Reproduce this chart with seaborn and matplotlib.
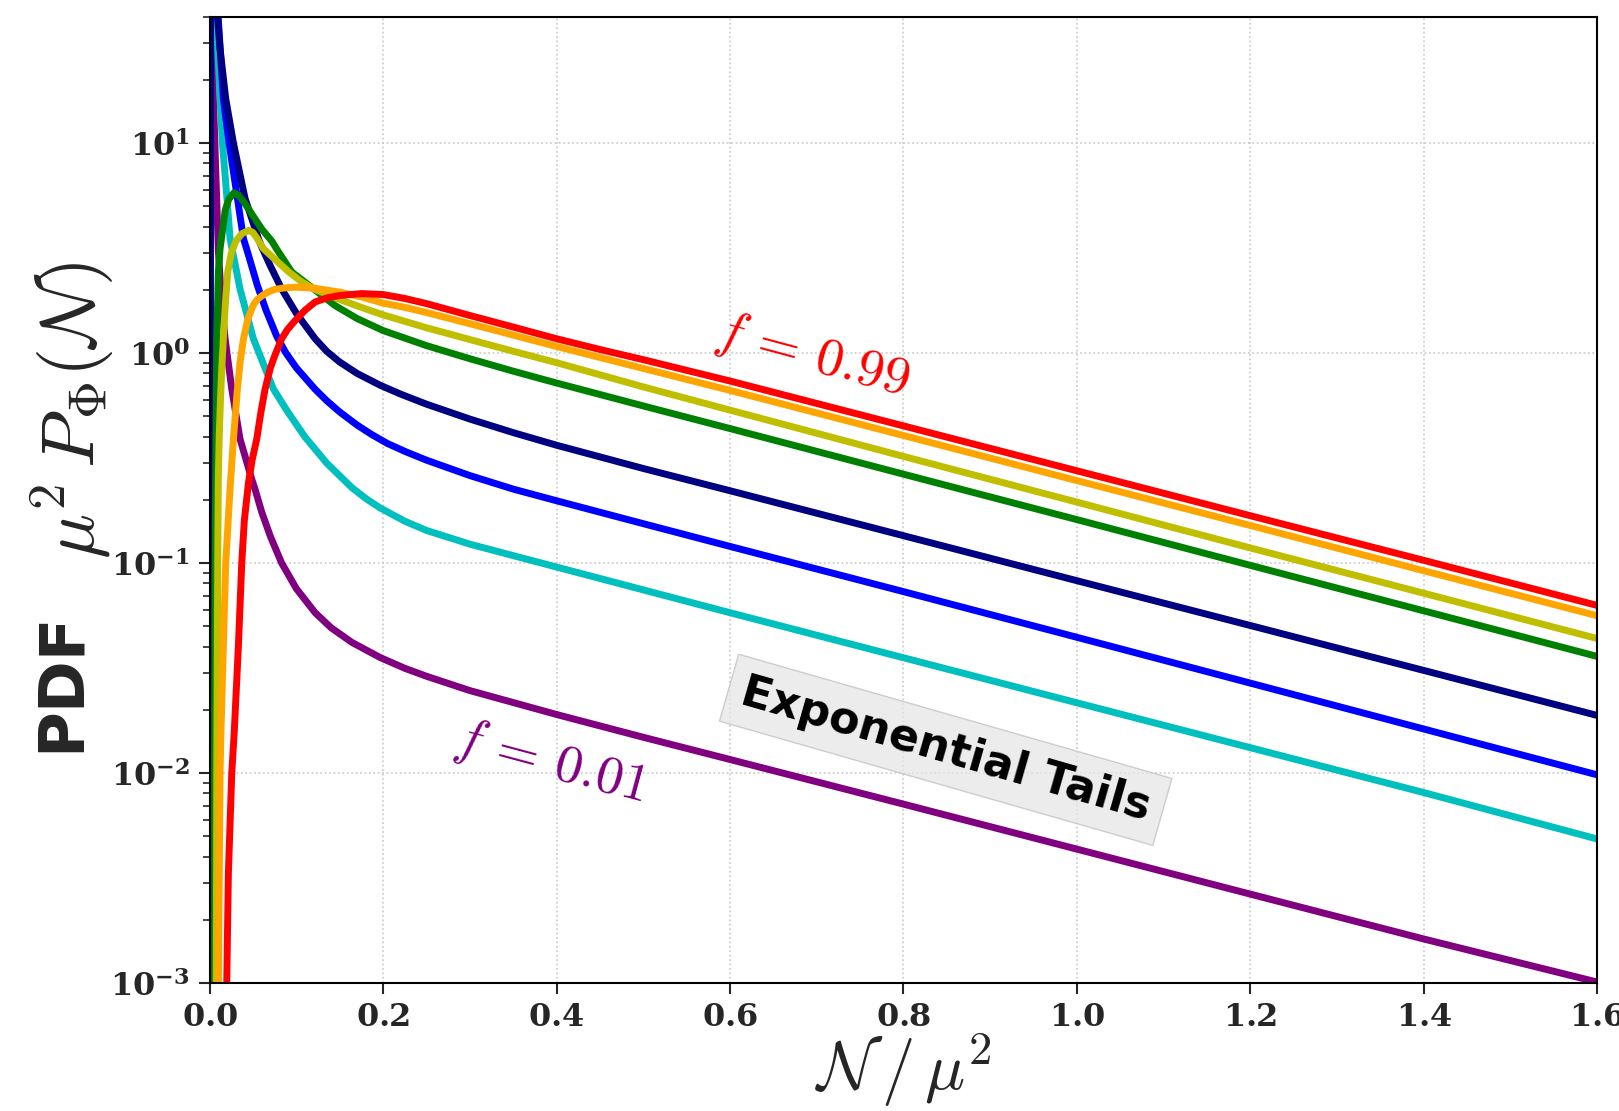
import numpy as np
import pandas as pd
import matplotlib
matplotlib.use("Agg")
import matplotlib.pyplot as plt
import matplotlib.ticker as mticker
import seaborn as sns

# ---------------- data ----------------
curve_names = ["f=0.01", "c2", "c3", "c4", "c5", "c6", "c7", "f=0.99"]
curve_colors = ["#800080", "#00bfbf", "#0000ff", "#000080",
                "#008000", "#bfbf00", "#ffa500", "#ff0000"]

purple_x = [0.00005, 0.0003, 0.0025, 0.004, 0.006, 0.010, 0.0135, 0.0178, 0.0255, 0.035,
            0.0485, 0.0523, 0.06, 0.07, 0.083, 0.1, 0.1215, 0.14, 0.164, 0.1965, 0.2253,
            0.25, 0.3, 0.4, 0.5, 0.6, 0.8, 1.0, 1.2, 1.4, 1.6]
purple_y = [0.0001, 200, 40, 18, 10, 3.1, 1.8, 1.17, 0.674, 0.39,
            0.251, 0.225, 0.175, 0.134, 0.10, 0.0755, 0.0581, 0.0492, 0.0419, 0.0355, 0.0315,
            0.0289, 0.0247, 0.019, 0.0148, 0.0116, 0.00711, 0.00434, 0.00265, 0.00162,
            0.00101]

cyan_x = [0.0001, 0.0005, 0.0075, 0.012, 0.0147, 0.020, 0.0235, 0.035, 0.0504, 0.0735, 0.09,
          0.11, 0.135, 0.1638, 0.18, 0.1965, 0.2253, 0.25, 0.3, 0.4, 0.5, 0.6, 0.8, 1.0,
          1.2, 1.4, 1.6]
cyan_y = [0.0001, 200, 40, 16.3, 10, 5.45, 3.51, 2.02, 1.17, 0.674, 0.525,
          0.398, 0.299, 0.229, 0.203, 0.183, 0.158, 0.143, 0.123, 0.0957, 0.0745, 0.058,
          0.0354, 0.0216, 0.0132, 0.00807, 0.00485]

blue_x = [0.0002, 0.0007, 0.009, 0.0158, 0.0224, 0.032, 0.039, 0.044, 0.055, 0.065, 0.0774,
          0.088, 0.1, 0.1215, 0.135, 0.15, 0.17, 0.187, 0.205, 0.2253, 0.25, 0.3, 0.35,
          0.4, 0.5, 0.6, 0.8, 1.0, 1.2, 1.4, 1.6]
blue_y = [0.0001, 200, 45, 16.3, 10, 5.45, 3.5, 3.0, 2.1, 1.6, 1.2,
          1.0, 0.85, 0.673, 0.593, 0.524, 0.454, 0.409, 0.371, 0.340, 0.309, 0.261, 0.225,
          0.198, 0.154, 0.120, 0.0731, 0.0443, 0.0268, 0.0162, 0.0098]

navy_x = [0.0003, 0.001, 0.008, 0.012, 0.0185, 0.0274, 0.0408, 0.0562, 0.060, 0.07, 0.083,
          0.1, 0.1215, 0.135, 0.15, 0.17, 0.1965, 0.22, 0.25, 0.3, 0.35, 0.4, 0.5, 0.6,
          0.8, 1.0, 1.2, 1.4, 1.6]
navy_y = [0.0001, 200, 45, 28, 16.3, 10, 5.45, 3.51, 3.2, 2.6, 2.02,
          1.545, 1.172, 1.019, 0.906, 0.80, 0.703, 0.638, 0.571, 0.485, 0.418, 0.364, 0.282,
          0.221, 0.135, 0.0824, 0.0504, 0.0308, 0.0188]

green_x = [0.0050, 0.0053, 0.0055, 0.0062, 0.0082, 0.010, 0.012, 0.018, 0.022, 0.028, 0.034,
           0.04, 0.045, 0.05, 0.06, 0.072, 0.077, 0.0947, 0.12, 0.1446, 0.17, 0.2, 0.25,
           0.3, 0.35, 0.4, 0.5, 0.6, 0.8, 1.0, 1.2, 1.4, 1.6]
green_y = [0.0003, 0.001, 0.01, 0.1, 1.17, 2.43, 3.14, 4.8, 5.4, 5.8, 5.6,
           5.2, 4.85, 4.5, 3.9, 3.4, 3.14, 2.43, 2.02, 1.683, 1.46, 1.28, 1.085,
           0.94, 0.82, 0.72, 0.56, 0.437, 0.265, 0.161, 0.0975, 0.0592, 0.0359]

yellow_x = [0.0072, 0.0076, 0.0082, 0.0093, 0.010, 0.011, 0.0125, 0.014, 0.0158, 0.018,
            0.0208, 0.025, 0.03, 0.037, 0.045, 0.05, 0.055, 0.062, 0.075, 0.0915, 0.105,
            0.12, 0.15, 0.175, 0.2, 0.25, 0.3, 0.35, 0.4, 0.5, 0.6, 0.8, 1.0, 1.2, 1.4, 1.6]
yellow_y = [0.0003, 0.001, 0.01, 0.1, 0.25, 0.4, 0.6, 0.85, 1.17, 1.7,
            2.43, 3.0, 3.4, 3.7, 3.84, 3.75, 3.5, 3.14, 2.8, 2.43, 2.2,
            2.02, 1.8, 1.65, 1.52, 1.32, 1.16, 1.02, 0.90, 0.69, 0.535, 0.322, 0.195,
            0.118, 0.0718, 0.0437]

orange_x = [0.0095, 0.0101, 0.012, 0.0131, 0.0158, 0.0185, 0.0235, 0.0274, 0.032, 0.035,
            0.039, 0.044, 0.05, 0.055, 0.06, 0.067, 0.075, 0.085, 0.0985, 0.12, 0.15, 0.175,
            0.2, 0.225, 0.25, 0.3, 0.4, 0.5, 0.6, 0.8, 1.0, 1.2, 1.4, 1.6]
orange_y = [0.0003, 0.001, 0.01, 0.0161, 0.04, 0.1, 0.225, 0.39, 0.674, 0.9,
            1.17, 1.45, 1.685, 1.8, 1.87, 1.95, 2.01, 2.04, 2.06, 2.04, 1.95, 1.85,
            1.73, 1.65, 1.56, 1.38, 1.075, 0.845, 0.664, 0.405, 0.247, 0.151, 0.0919,
            0.0561]

red_x = [0.0185, 0.0197, 0.0216, 0.0255, 0.0285, 0.0331, 0.037, 0.04, 0.0447, 0.049,
         0.0543, 0.059, 0.0639, 0.07, 0.075, 0.083, 0.09, 0.1, 0.11, 0.1215, 0.135, 0.15,
         0.175, 0.2, 0.225, 0.25, 0.3, 0.35, 0.4, 0.45, 0.5, 0.6, 0.8, 1.0, 1.2, 1.4, 1.6]
red_y = [0.0003, 0.001, 0.00334, 0.01, 0.0161, 0.040, 0.10, 0.16, 0.24, 0.31,
         0.39, 0.52, 0.674, 0.85, 0.97, 1.17, 1.30, 1.45, 1.60, 1.75, 1.83, 1.88,
         1.92, 1.90, 1.82, 1.72, 1.51, 1.33, 1.17, 1.04, 0.93, 0.736, 0.450, 0.275,
         0.168, 0.103, 0.0628]

x_ticks = [0.0, 0.2, 0.4, 0.6, 0.8, 1.0, 1.2, 1.4, 1.6]
y_ticks = [1e-3, 1e-2, 1e-1, 1e0, 1e1]

# ---------------- build long table ----------------
series_x = [purple_x, cyan_x, blue_x, navy_x, green_x, yellow_x, orange_x, red_x]
series_y = [purple_y, cyan_y, blue_y, navy_y, green_y, yellow_y, orange_y, red_y]
frames = []
for name, xs, ys in zip(curve_names, series_x, series_y):
    frames.append(pd.DataFrame({"x": xs, "y": ys, "curve": name}))
df = pd.concat(frames, ignore_index=True)

# ---------------- style ----------------
sns.set_style("ticks")
plt.rcParams["font.family"] = ["DejaVu Sans"]
plt.rcParams["mathtext.fontset"] = "cm"

fig = plt.figure(figsize=(16.19, 11.11), dpi=100)
ax = fig.add_axes([0.1295, 0.1152, 0.8571, 0.8698])

sns.lineplot(data=df, x="x", y="y", hue="curve", hue_order=curve_names,
             palette=dict(zip(curve_names, curve_colors)), linewidth=5,
             legend=False, sort=False, estimator=None, ax=ax)

ax.set_yscale("log")
ax.set_xlim(0.0, 1.6)
ax.set_ylim(1e-3, 40)

ax.set_xticks(x_ticks)
ax.set_xticklabels([r"$\mathbf{%.1f}$" % v for v in x_ticks], fontsize=23)
ax.set_yticks(y_ticks)
ax.set_yticklabels([r"$\mathbf{10^{%d}}$" % int(np.log10(v)) for v in y_ticks], fontsize=23)
for lbl in ax.get_xticklabels() + ax.get_yticklabels():
    lbl.set_math_fontfamily("dejavuserif")
ax.yaxis.set_minor_locator(mticker.LogLocator(base=10, subs=np.arange(2, 10), numticks=20))
ax.yaxis.set_minor_formatter(mticker.NullFormatter())

ax.tick_params(which="major", direction="out", length=8, width=1.5,
               left=True, bottom=True, top=False, right=False, pad=6)
ax.tick_params(which="minor", direction="out", length=5, width=1.2,
               left=True, bottom=False, top=False, right=False)

for s in ax.spines.values():
    s.set_visible(True)
    s.set_linewidth(1.5)
    s.set_color("black")

ax.grid(True, which="major", linestyle=":", color="#c8c8c8", linewidth=1.2)

ax.set_xlabel(r"$\mathcal{N}\,/\,\mu^2$", fontsize=48)
ax.xaxis.set_label_coords(0.5, -0.05)
ax.set_ylabel("")
ax.text(-0.099, 0.593, r"$\mu^2\,P_{\Phi}(\mathcal{N})$", transform=ax.transAxes,
        fontsize=54, rotation=90, ha="center", va="center")
ax.text(-0.1064, 0.312, "PDF", transform=ax.transAxes, fontsize=45, fontweight="bold",
        rotation=90, ha="center", va="center")

ax.text(0.695, 0.97, r"$f\,=\,0.99$", color="#ff0000", fontsize=39, rotation=-15,
        ha="center", va="center")
ax.text(0.3925, 0.0112, r"$f\,=\,0.01$", color="#800080", fontsize=39, rotation=-15,
        ha="center", va="center")
ax.text(0.8487, 0.0129, "Exponential Tails", fontsize=32, fontweight="bold",
        rotation=-16, ha="center", va="center", color="black",
        bbox=dict(boxstyle="square,pad=0.3", facecolor="#e6e6e6",
                  edgecolor="#c0c0c0", alpha=0.75))

fig.savefig("out.png", dpi=100)
